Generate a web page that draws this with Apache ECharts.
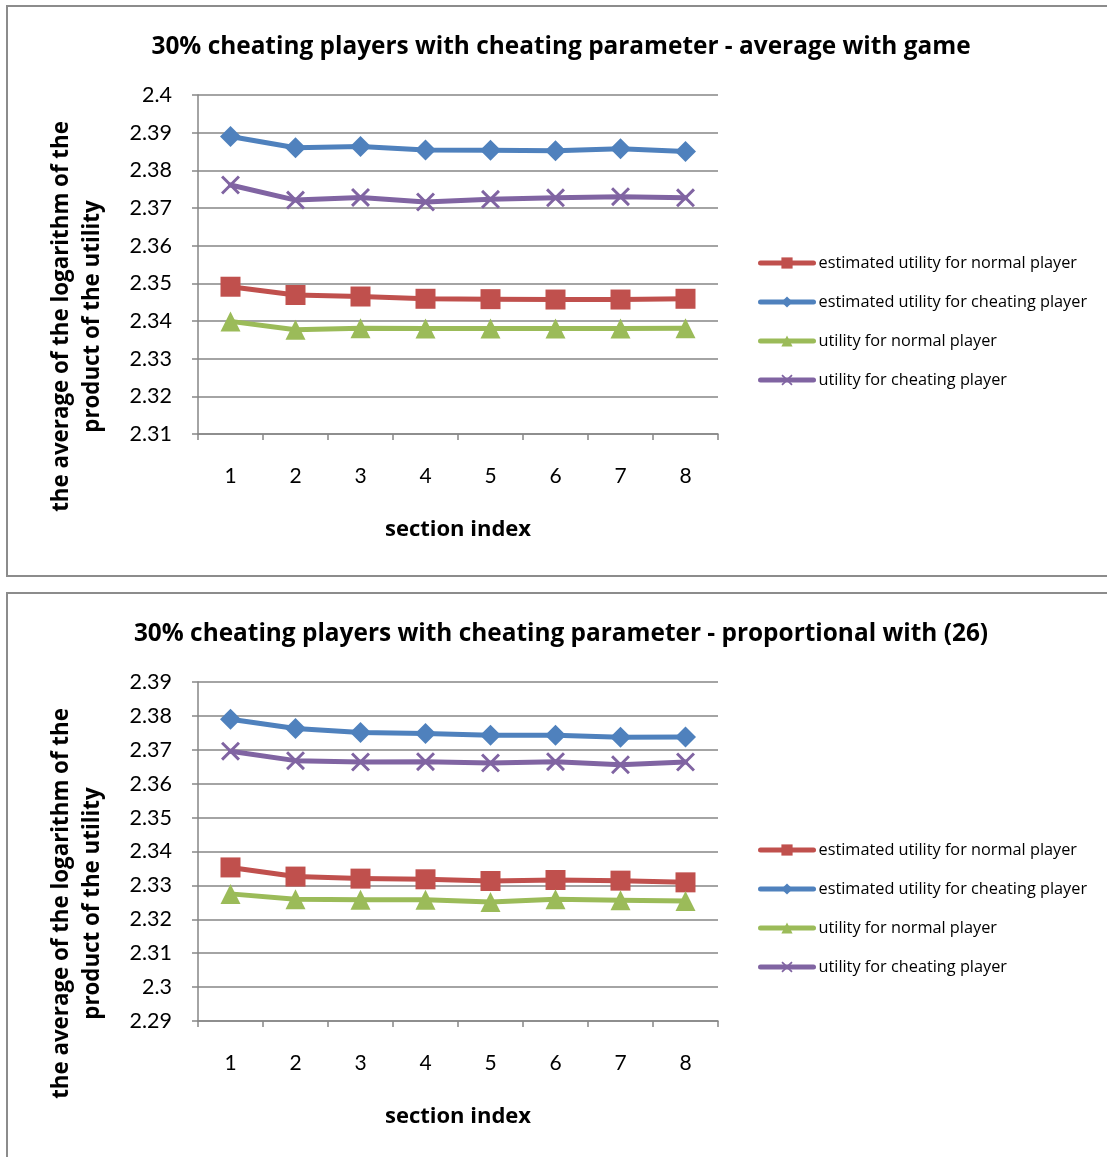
<!DOCTYPE html>
<html>
<head>
<meta charset="utf-8">
<script src="https://cdn.jsdelivr.net/npm/echarts@6/dist/echarts.min.js"></script>
<style>
html,body{margin:0;padding:0;background:#fff;}
#c{width:1107px;height:1157px;}
</style>
</head>
<body>
<div id="c"></div>
<script>
const categories = ['1','2','3','4','5','6','7','8'];
const seriesNames = ['estimated utility for normal player','estimated utility for cheating player','utility for normal player','utility for cheating player'];

// Chart 1: average with game
const c1EstNormal = [2.3491, 2.3469, 2.3465, 2.3459, 2.3458, 2.3457, 2.3457, 2.3459];
const c1EstCheat  = [2.3890, 2.3860, 2.3863, 2.3854, 2.3853, 2.3852, 2.3857, 2.3850];
const c1Normal    = [2.3399, 2.3377, 2.3381, 2.3380, 2.3380, 2.3380, 2.3380, 2.3381];
const c1Cheat     = [2.3761, 2.3721, 2.3728, 2.3716, 2.3723, 2.3727, 2.3730, 2.3727];

// Chart 2: proportional with (26)
const c2EstNormal = [2.3353, 2.3326, 2.3320, 2.3318, 2.3313, 2.3316, 2.3314, 2.3309];
const c2EstCheat  = [2.3790, 2.3763, 2.3751, 2.3748, 2.3743, 2.3743, 2.3737, 2.3738];
const c2Normal    = [2.3275, 2.3259, 2.3258, 2.3258, 2.3251, 2.3259, 2.3256, 2.3254];
const c2Cheat     = [2.3696, 2.3668, 2.3664, 2.3665, 2.3661, 2.3665, 2.3656, 2.3664];

const titles = ['30% cheating players with cheating parameter - average with game',
                '30% cheating players with cheating parameter - proportional with (26)'];
const yRanges = [[2.31, 2.40], [2.29, 2.39]];
const yStep = 0.01;
const xAxisName = 'section index';
const yAxisName = 'the average of the logarithm of the\nproduct of the utility';

const FONT = '"Open Sans", Lato, sans-serif';
const NUMFONT = 'Lato, "Open Sans", sans-serif';
const colors = ['#C0504D', '#4F81BD', '#9BBB59', '#8064A2'];
const symbols = ['rect', 'diamond', 'triangle', 'path://M0,1.1 L1.1,0 L10,8.9 L8.9,10 Z M8.9,0 L10,1.1 L1.1,10 L0,8.9 Z'];
const symSizes = [20, 21, 20, 19];
const data = [[c1EstNormal, c1EstCheat, c1Normal, c1Cheat],[c2EstNormal, c2EstCheat, c2Normal, c2Cheat]];

const gridTops = [95, 682];
const gridH = 339;
const legendTops = [253, 840];
const titleTops = [30, 617];

const option = {
  backgroundColor: '#fff',
  animation: false,
  title: titles.map((t, i) => ({
    text: t, left: 556, top: titleTops[i], textAlign: 'center',
    textStyle: {fontFamily: FONT, fontWeight: 'bold', fontSize: 24.4, color: '#000'}
  })),
  legend: [0, 1].map(i => ({
    data: seriesNames, orient: 'vertical', left: 758, top: legendTops[i], padding: 0,
    itemWidth: 53, itemHeight: 14, itemGap: 19,
    lineStyle: {width: 5},
    textStyle: {fontFamily: FONT, fontSize: 16.3, color: '#000', lineHeight: 20}
  })),
  grid: [0, 1].map(i => ({left: 198, width: 520, top: gridTops[i], height: gridH, containLabel: false})),
  xAxis: [0, 1].map(i => ({
    type: 'category', gridIndex: i, data: categories, boundaryGap: true,
    name: xAxisName, nameLocation: 'middle', nameGap: 85,
    nameTextStyle: {fontFamily: FONT, fontWeight: 'bold', fontSize: 22, color: '#000'},
    axisLine: {lineStyle: {color: '#868686', width: 1.5}},
    axisTick: {show: true, interval: 0, length: 6, lineStyle: {color: '#868686', width: 1.5}},
    axisLabel: {fontFamily: NUMFONT, fontSize: 21, color: '#000', margin: 32},
    splitLine: {show: false}
  })),
  yAxis: [0, 1].map(i => ({
    type: 'value', gridIndex: i, min: yRanges[i][0], max: yRanges[i][1], interval: yStep,
    name: yAxisName, nameLocation: 'middle', nameGap: 90, nameRotate: 90,
    nameTextStyle: {fontFamily: FONT, fontWeight: 'bold', fontSize: 22.3, color: '#000', lineHeight: 31, align: 'center',
      padding: [0, 104, 0, 0]},
    axisLine: {show: true, lineStyle: {color: '#868686', width: 1.5}},
    axisTick: {show: true, length: 6, lineStyle: {color: '#868686', width: 1.5}},
    axisLabel: {fontFamily: NUMFONT, fontSize: 21.5, color: '#000', margin: 26,
      formatter: v => String(parseFloat(v.toFixed(2)))},
    splitLine: {show: true, lineStyle: {color: '#868686', width: 1.5}}
  })),
  series: [],
  graphic: [
    {type: 'rect', shape: {x: 7, y: 6, width: 1110, height: 570}, style: {fill: 'none', stroke: '#8c8c8c', lineWidth: 2}, silent: true, z: -1},
    {type: 'rect', shape: {x: 7, y: 593, width: 1110, height: 580}, style: {fill: 'none', stroke: '#8c8c8c', lineWidth: 2}, silent: true, z: -1}
  ]
};

for (let g = 0; g < 2; g++) {
  for (let s = 0; s < 4; s++) {
    option.series.push({
      type: 'line', name: seriesNames[s], xAxisIndex: g, yAxisIndex: g,
      data: data[g][s], symbol: symbols[s], symbolSize: symSizes[s],
      color: colors[s],
      lineStyle: {color: colors[s], width: 5, cap: 'round', join: 'round'},
      itemStyle: {color: colors[s]},
      z: 2 + s
    });
  }
}

const chart = echarts.init(document.getElementById('c'), null, {renderer: 'canvas'});
chart.setOption(option);
</script>
</body>
</html>
